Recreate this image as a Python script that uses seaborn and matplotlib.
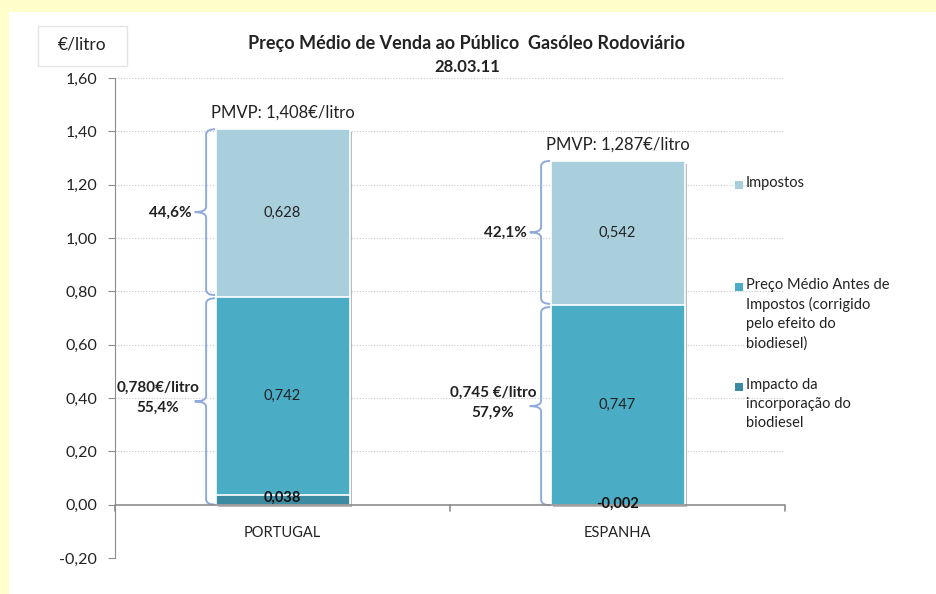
import numpy as np
import pandas as pd
import seaborn as sns
import matplotlib.pyplot as plt
from matplotlib.patches import Rectangle, PathPatch
from matplotlib.path import Path
import matplotlib.patheffects as pe

sns.set_style("white")
plt.rcParams['font.family'] = ['Lato', 'DejaVu Sans']

paises = ["PORTUGAL", "ESPANHA"]
impostos = [0.628, 0.542]
preco_antes = [0.742, 0.747]
impacto_bio = [0.038, -0.002]
pmvp = [1.408, 1.287]
pct_impostos = ["44,6%", "42,1%"]
antes_txt = ["0,780€/litro\n55,4%", "0,745 €/litro\n57,9%"]

series = ["Impostos",
          "Preço Médio Antes de\nImpostos (corrigido\npelo efeito do\nbiodiesel)",
          "Impacto da\nincorporação do\nbiodiesel"]
cores = ["#A9CEDC", "#4BACC6", "#3B8CA3"]


def fmt(v):
    return f"{v:.3f}".replace(".", ",")


# stacked heights (positive parts stack, negative parts go below 0)
dark = np.array(impacto_bio)
mid = np.array(preco_antes) + np.clip(dark, 0, None)
top = mid + np.array(impostos)
df = pd.DataFrame({"pais": paises, "top": top, "mid": mid, "dark": dark})

fig = plt.figure(figsize=(9.37, 5.94), dpi=100, facecolor="#FFFFCC")
fig.patches.append(Rectangle((9 / 937, 0), 928 / 937, 582 / 594,
                             transform=fig.transFigure, facecolor="white",
                             edgecolor="none", zorder=-10))
ax = fig.add_axes([115 / 937, 1 - 558 / 594, 670 / 937, 480 / 594])
ax.set_facecolor("none")

sns.barplot(data=df, x="pais", y="top", color=cores[0], width=0.4,
            saturation=1, edgecolor="white", linewidth=1.2, ax=ax, zorder=3)
for p in ax.patches:
    p.set_path_effects([pe.SimplePatchShadow(offset=(2, -2), alpha=0.35), pe.Normal()])
sns.barplot(data=df, x="pais", y="mid", color=cores[1], width=0.4,
            saturation=1, edgecolor="white", linewidth=1.2, ax=ax, zorder=3)
sns.barplot(data=df, x="pais", y="dark", color=cores[2], width=0.4,
            saturation=1, edgecolor="white", linewidth=1.2, ax=ax, zorder=3)

ax.set_xlim(-0.5, 1.5)
ax.set_ylim(-0.2, 1.6)
yt = np.arange(-0.2, 1.61, 0.2)
ax.set_yticks(yt)
ax.set_yticklabels([f"{v:.2f}".replace(".", ",").replace("-0,00", "0,00") for v in yt],
                   fontsize=11.5, color="#222222")
ax.set_xticks([])
ax.set_xlabel("")
ax.set_ylabel("")
for v in yt:
    if abs(v) > 1e-6:
        ax.axhline(v, color="#C8C8C8", lw=0.8, ls=(0, (1, 1.5)), zorder=0)
ax.axhline(0, color="#8C8C8C", lw=1.2, zorder=4)
for xb in [-0.5, 0.5, 1.5]:
    ax.plot([xb, xb], [0, -0.022], color="#8C8C8C", lw=1.2, clip_on=False, zorder=4)
for s in ["top", "right", "bottom"]:
    ax.spines[s].set_visible(False)
ax.spines["left"].set_color("#8C8C8C")
ax.tick_params(axis="y", left=True, length=5, color="#8C8C8C", pad=8)

for i, nome in enumerate(paises):
    ax.text(i, -0.105, nome, ha="center", va="center", fontsize=10.5, color="#222222")
    # segment values
    ax.text(i, (mid[i] + top[i]) / 2, fmt(impostos[i]), ha="center", va="center",
            fontsize=10.5, color="#222222", zorder=5)
    ax.text(i, (max(dark[i], 0) + mid[i]) / 2, fmt(preco_antes[i]), ha="center",
            va="center", fontsize=10.5, color="#222222", zorder=5)
    ax.text(i, dark[i] / 2 + 0.005, fmt(impacto_bio[i]), ha="center", va="center",
            fontsize=10.5, color="#111111", fontweight="bold", zorder=5)
    ax.text(i, top[i] + 0.033, f"PMVP: {fmt(pmvp[i])}€/litro", ha="center",
            va="bottom", fontsize=12, color="#222222")


def chaveta(x, y0, y1, ax):
    xt, xv, xm = x - 0.2, x - 0.228, x - 0.262
    r = 0.02
    ym = (y0 + y1) / 2
    verts = [(xt, y1), (xv, y1), (xv, y1 - r),
             (xv, ym + r), (xv, ym), (xm, ym),
             (xv, ym), (xv, ym - r),
             (xv, y0 + r), (xv, y0), (xt, y0)]
    codes = [Path.MOVETO, Path.CURVE3, Path.CURVE3,
             Path.LINETO, Path.CURVE3, Path.CURVE3,
             Path.CURVE3, Path.CURVE3,
             Path.LINETO, Path.CURVE3, Path.CURVE3]
    ax.add_patch(PathPatch(Path(verts, codes), fill=False, edgecolor="#8FAADC",
                           lw=1.4, zorder=2, clip_on=False))


for i in range(len(paises)):
    chaveta(i, mid[i] + 0.006, top[i], ax)
    chaveta(i, min(dark[i], 0), mid[i] - 0.006, ax)
    ym_top = (mid[i] + top[i]) / 2
    ym_low = (min(dark[i], 0) + mid[i]) / 2
    ax.text(i - 0.335, ym_top, pct_impostos[i], ha="center", va="center",
            fontsize=11, fontweight="bold", color="#222222")
    ax.text(i - 0.372, ym_low + 0.01, antes_txt[i], ha="center", va="center",
            fontsize=11, fontweight="bold", color="#222222", linespacing=1.55)

# legend, marker aligned to first line like the original
leg_y = [185, 287, 387]
for nome, cor, yy in zip(series, cores, leg_y):
    fig.patches.append(Rectangle((735 / 937, 1 - (yy + 4) / 594), 8 / 937, 8 / 594,
                                 transform=fig.transFigure, facecolor=cor,
                                 edgecolor="none"))
    fig.text(746 / 937, 1 - (yy - 9) / 594, nome, ha="left", va="top",
             fontsize=10.5, color="#222222", linespacing=1.45)

# units box
fig.patches.append(Rectangle((38 / 937, 1 - 66 / 594), 89 / 937, 40 / 594,
                             transform=fig.transFigure, facecolor="white",
                             edgecolor="#E4E4E4", lw=1))
fig.text(82 / 937, 1 - 44 / 594, "€/litro", ha="center", va="center",
         fontsize=12.5, color="#222222")

fig.text(467 / 937, 1 - 43 / 594, "Preço Médio de Venda ao Público  Gasóleo Rodoviário",
         ha="center", va="center", fontsize=13, fontweight="bold", color="#222222")
fig.text(467 / 937, 1 - 67 / 594, "28.03.11", ha="center", va="center",
         fontsize=12, fontweight="bold", color="#222222")

fig.savefig("out.png", dpi=100, facecolor=fig.get_facecolor())
